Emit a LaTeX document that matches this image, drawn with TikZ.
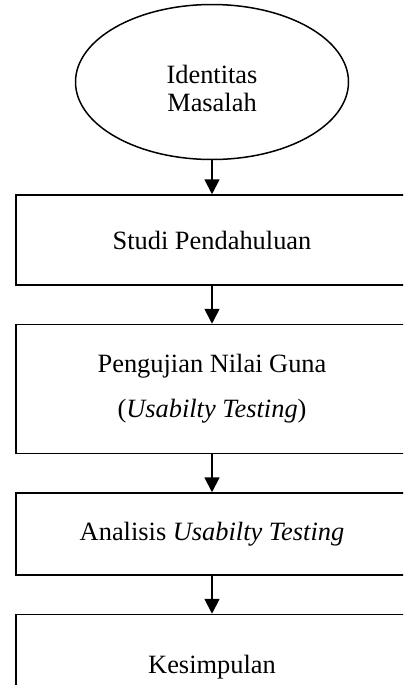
\documentclass[tikz,border=0pt]{standalone}
\usepackage{fontspec}
\setmainfont{Liberation Serif}
\usetikzlibrary{arrows.meta,shapes.geometric,positioning}
\tikzstyle{line} = [draw, ->, line width=0.9pt]

\begin{document}
\begin{tikzpicture}[
            > = {Triangle[width=7.5pt,length=7.5pt]}, % arrow head style
            node distance = 19pt, % distance between boxes
            font = \fontsize{13.2}{15.6}\selectfont
        ]

        \tikzstyle{tahap}=[
            draw = black,
            line width = 0.75pt,
            rectangle,
            minimum width = 196pt,
            align = center
        ]
        \tikzstyle{awal}=[
            draw = black,
            line width = 0.75pt,
            ellipse,
            minimum width = 136.5pt,
            minimum height = 77.5pt,
            inner sep = 0pt
        ]

        \useasboundingbox (0,0) rectangle (201.5pt,-342.5pt);
        \clip (0,0) rectangle (201.5pt,-342.5pt); % page cuts the last box

        \node[awal] (masalah) at (106pt,-41pt) {\begin{tabular}{@{}c@{}}\rule{0pt}{20pt}Identitas\\[-1.5pt]Masalah\end{tabular}};
        \node[tahap, minimum height=45pt] (studi) [below=17pt of masalah] {Studi Pendahuluan};
        \node[tahap, minimum height=64.5pt] (uji) [below=of studi] {Pengujian Nilai Guna\\[7pt](\textit{Usabilty Testing})};
        \node[tahap, minimum height=41pt] (analisis) [below=of uji] {Analisis \textit{Usabilty Testing}};
        \node[tahap, minimum height=53pt] (simpul) [below=of analisis] {Kesimpulan};

        \path[line] (masalah) -- (studi);
        \path[line] (studi) -- (uji);
        \path[line] (uji) -- (analisis);
        \path[line] (analisis) -- (simpul);

    \end{tikzpicture}
\end{document}
